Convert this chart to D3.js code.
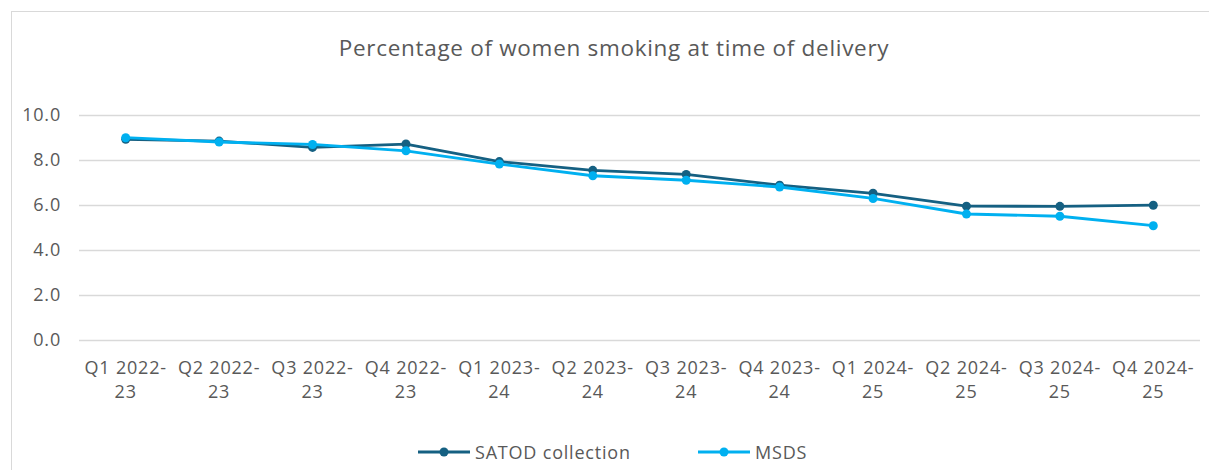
<!DOCTYPE html>
<html><head><meta charset="utf-8">
<script src="https://cdn.jsdelivr.net/npm/d3@7"></script>
<style>body{margin:0;background:#fff;}svg{display:block;font-family:"Open Sans","Noto Sans",sans-serif;}</style>
</head><body>
<svg id="c" width="1209" height="470"></svg>
<script>
const categories = [["Q1 2022-","23"],["Q2 2022-","23"],["Q3 2022-","23"],["Q4 2022-","23"],["Q1 2023-","24"],["Q2 2023-","24"],["Q3 2023-","24"],["Q4 2023-","24"],["Q1 2024-","25"],["Q2 2024-","25"],["Q3 2024-","25"],["Q4 2024-","25"]];
const satod = [8.92, 8.84, 8.56, 8.71, 7.93, 7.54, 7.36, 6.88, 6.52, 5.95, 5.94, 5.99];
const msds = [8.99, 8.80, 8.69, 8.41, 7.82, 7.30, 7.10, 6.80, 6.29, 5.60, 5.50, 5.08];
const yTicks = [0, 2, 4, 6, 8, 10];
const seriesNames = ["SATOD collection", "MSDS"];
const colors = ["#156082", "#00B0F0"];

const svg = d3.select("#c");
svg.append("rect").attr("x",11.5).attr("y",11.5).attr("width",1220).attr("height",480)
  .attr("fill","#fff").attr("stroke","#d9d9d9").attr("stroke-width",1);

svg.append("text").attr("x",614).attr("y",56).attr("text-anchor","middle")
  .attr("font-size",22.5).attr("letter-spacing",0.7).attr("fill","#595959").text("Percentage of women smoking at time of delivery");

const x = d3.scaleBand().domain(d3.range(categories.length)).range([79,1200]);
const y = d3.scaleLinear().domain([0,10]).range([340,115]);

const g = svg.append("g");
const yAxis = g.append("g").attr("transform","translate(79,0)")
  .call(d3.axisLeft(y).tickValues(yTicks).tickSize(-1121).tickFormat(d3.format(".1f")));
yAxis.select(".domain").remove();
yAxis.selectAll("line").attr("stroke","#d9d9d9").attr("stroke-width",1.3);
yAxis.selectAll("text").attr("x",-18).attr("font-size",18).attr("letter-spacing",0.8).attr("fill","#595959").attr("font-family","Open Sans, sans-serif");

const xAxis = g.append("g").attr("transform","translate(0,340)")
  .call(d3.axisBottom(x).tickSize(0).tickFormat(""));
xAxis.select(".domain").remove();
xAxis.selectAll(".tick").each(function(d){
  const t = d3.select(this).append("text").attr("fill","#595959").attr("font-size",18)
    .attr("letter-spacing",0.8).attr("text-anchor","middle").attr("font-family","Open Sans, sans-serif");
  t.append("tspan").attr("x",0).attr("y",34).text(categories[d][0]);
  t.append("tspan").attr("x",0).attr("y",58).text(categories[d][1]);
});

const cx = i => x(i) + x.bandwidth()/2;
const line = d3.line().x((d,i)=>cx(i)).y(d=>y(d));
[satod, msds].forEach((s,k)=>{
  g.append("path").datum(s).attr("d",line).attr("fill","none")
    .attr("stroke",colors[k]).attr("stroke-width",2.8).attr("stroke-linejoin","round");
  g.selectAll(null).data(s).enter().append("circle")
    .attr("cx",(d,i)=>cx(i)).attr("cy",d=>y(d)).attr("r",4.5).attr("fill",colors[k]);
});

const legendX = [418, 698];
seriesNames.forEach((n,k)=>{
  const lg = svg.append("g").attr("transform",`translate(${legendX[k]},452)`);
  lg.append("line").attr("x1",0).attr("x2",52).attr("stroke",colors[k]).attr("stroke-width",2.8);
  lg.append("circle").attr("cx",26).attr("r",4.5).attr("fill",colors[k]);
  lg.append("text").attr("x",57).attr("y",6.5).attr("font-size",18).attr("letter-spacing",0.8).attr("fill","#595959").text(n);
});
</script>
</body></html>
